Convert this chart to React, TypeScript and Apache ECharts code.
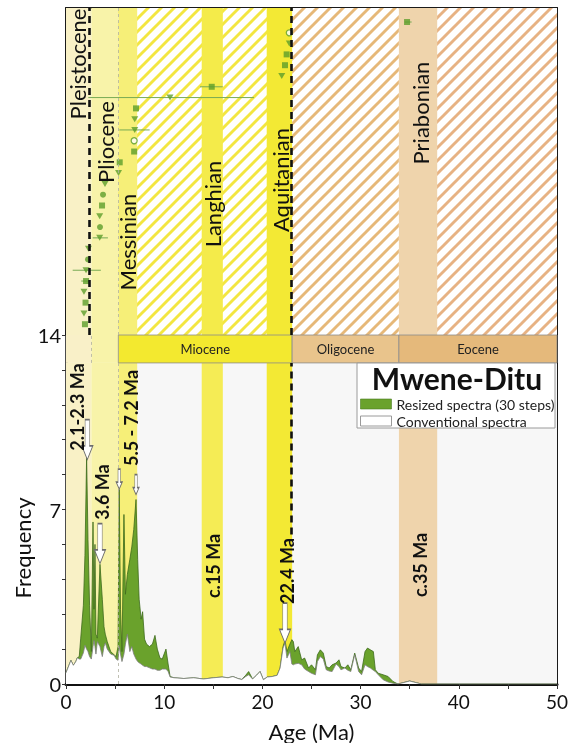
import React, { useEffect, useRef } from "react";
import * as echarts from "echarts";

const FONT = "Lato, 'Open Sans', sans-serif";

// ---------- Top panel: dated samples (row order bottom -> top) ----------
const pointRow = [1, 2, 3, 4, 5, 6, 7, 8, 9, 10, 11, 12, 13, 14, 15, 16, 17, 18, 19, 20, 21, 22, 23, 24, 25, 26, 27, 28, 29];
const pointAge = [1.93, 1.83, 1.99, 1.83, 2.04, 2.04, 2.24, 2.29, 3.43, 3.46, 3.43, 3.67, 3.77, 3.97, 5.35, 5.47, 6.94, 6.94, 7.0, 7.0, 7.13, 10.59, 14.84, 21.97, 22.3, 22.47, 22.74, 22.74, 34.73];
const pointMarker = ["square", "triangle", "square", "triangle", "square", "triangle", "circle", "triangle", "triangle", "circle", "triangle", "square", "circle", "triangle", "triangle", "square", "square", "open", "triangle", "triangle", "square", "triangle", "square", "triangle", "square", "square", "triangle", "open", "square"];
const pointErrLo = [null, null, null, null, 1.55, 0.68, null, null, 2.72, null, null, null, null, null, null, null, null, null, 5.43, null, null, 2.27, 13.65, null, null, null, null, null, 34.5];
const pointErrHi = [null, null, null, null, 2.4, 3.55, null, null, 4.27, null, null, null, null, null, null, null, null, null, 8.52, null, null, 19.14, 15.96, null, null, null, null, null, 35.2];

// ---------- Bottom panel: spectra ----------
const spectraAge = [0, 0.3, 0.5, 0.75, 1.0, 1.15, 1.35, 1.5, 1.77, 1.93, 2.1, 2.24, 2.4, 2.58, 2.75, 2.85, 2.95, 3.05, 3.19, 3.46, 3.7, 3.87, 4.0, 4.2, 4.55, 4.9, 5.1, 5.3, 5.42, 5.55, 5.7, 5.9, 6.05, 6.25, 6.5, 6.7, 6.9, 7.13, 7.3, 7.45, 7.65, 7.8, 8.0, 8.2, 8.5, 8.8, 9.06, 9.3, 9.57, 9.8, 10.18, 10.4, 10.6, 11.0, 12.0, 13.0, 14.0, 15.0, 15.9, 16.5, 17.0, 17.5, 17.9, 18.3, 18.6, 19.0, 19.4, 19.76, 20.1, 20.5, 21.0, 21.5, 21.8, 22.1, 22.3, 22.5, 22.8, 23.0, 23.15, 23.3, 23.65, 24.0, 24.3, 24.7, 25.0, 25.4, 25.6, 25.9, 26.2, 26.5, 26.8, 27.1, 27.5, 27.8, 28.0, 28.4, 28.7, 29.0, 29.4, 29.8, 30.1, 30.45, 30.7, 31.0, 31.3, 31.5, 31.8, 32.3, 32.8, 33.3, 33.8, 34.3, 35.0, 35.7, 36.2, 50];
const resizedFreq = [0.45, 0.75, 0.95, 0.75, 0.9, 1.05, 1.1, 1.84, 3.16, 5.16, 9.1, 5.8, 3.16, 1.3, 6.5, 3.0, 5.6, 2.0, 1.84, 4.8, 3.4, 2.3, 2.0, 1.7, 1.3, 1.17, 1.1, 1.5, 7.8, 3.0, 1.3, 6.8, 3.6, 4.4, 5.0, 5.5, 6.2, 7.4, 5.0, 3.4, 2.6, 2.9, 1.8, 1.6, 1.5, 1.6, 1.95, 1.4, 1.04, 1.0, 1.4, 0.8, 0.3, 0.25, 0.22, 0.25, 0.2, 0.25, 0.28, 0.25, 0.3, 0.22, 0.18, 0.35, 0.5, 0.2, 0.35, 0.5, 0.17, 0.28, 0.3, 0.35, 0.64, 1.5, 1.75, 1.3, 1.6, 1.78, 1.7, 1.3, 1.5, 0.97, 1.04, 0.64, 0.77, 0.57, 1.17, 1.37, 1.24, 0.7, 0.64, 0.77, 0.84, 0.97, 0.7, 0.64, 0.77, 0.57, 1.24, 0.64, 0.5, 1.3, 1.44, 1.37, 1.3, 0.57, 0.43, 0.37, 0.3, 0.1, 0.0, 0.05, 0.12, 0.05, 0.0, 0.0];
const conventionalFreq = [0.45, 0.75, 0.95, 0.75, 0.9, 1.05, 1.0, 1.0, 1.25, 1.55, 1.4, 1.3, 1.1, 1.0, 1.5, 1.75, 1.5, 1.2, 1.7, 1.5, 1.1, 1.5, 1.65, 1.4, 1.2, 1.15, 1.0, 0.95, 1.5, 1.2, 0.9, 1.2, 1.6, 2.0, 1.3, 1.5, 1.2, 1.0, 0.9, 0.85, 0.8, 0.75, 0.7, 0.7, 0.65, 0.6, 0.6, 0.55, 0.55, 0.6, 0.6, 0.5, 0.28, 0.25, 0.22, 0.25, 0.2, 0.25, 0.28, 0.25, 0.3, 0.22, 0.18, 0.3, 0.37, 0.2, 0.35, 0.5, 0.17, 0.28, 0.3, 0.35, 0.64, 1.44, 1.64, 1.04, 1.3, 0.8, 0.77, 0.8, 0.83, 0.77, 0.6, 0.5, 0.43, 0.37, 0.9, 1.1, 1.0, 0.57, 0.52, 0.5, 0.8, 0.7, 0.57, 0.64, 0.55, 0.5, 1.17, 0.5, 0.37, 0.77, 0.7, 0.64, 0.55, 0.5, 0.37, 0.17, 0.08, 0.03, 0.0, 0.05, 0.12, 0.05, 0.0, 0.0];

// ---------- Arrows (tip positions) ----------
const arrowAge = [2.17, 3.46, 5.42, 7.13, 22.3];
const arrowFreq = [9.0, 4.83, 7.82, 7.6, 1.64];

// ---------- Time scale ----------
const epochStart = [0, 2.58, 5.33, 23.03, 33.9];
const epochEnd = [2.58, 5.33, 23.03, 33.9, 50];
const epochName = ["", "", "Miocene", "Oligocene", "Eocene"];
const stageStart = [5.33, 13.82, 20.44, 33.9];
const stageEnd = [7.25, 15.97, 23.03, 37.8];
const stageName = ["Messinian", "Langhian", "Aquitanian", "Priabonian"];
const stripTop = 14;
const stripBottom = 12.88;

function stripePattern(color: string): any {
  const s = 13;
  const c = document.createElement("canvas");
  c.width = s;
  c.height = s;
  const g = c.getContext("2d");
  if (g) {
    g.fillStyle = "#ffffff";
    g.fillRect(0, 0, s, s);
    g.strokeStyle = color;
    g.lineWidth = 2.9;
    g.beginPath();
    g.moveTo(-3, 3);
    g.lineTo(3, -3);
    g.moveTo(0, s);
    g.lineTo(s, 0);
    g.moveTo(s - 3, s + 3);
    g.lineTo(s + 3, s - 3);
    g.stroke();
  }
  return { image: c, repeat: "repeat", imageWidth: s, imageHeight: s };
}

export default function App() {
  const ref = useRef<HTMLDivElement>(null);

  useEffect(() => {
    if (!ref.current) return;
    const chart = echarts.init(ref.current, null, { renderer: "svg" });

    const topEpochFill = ["#f9f1c6", "#f8f3a9", stripePattern("#f3e640"), stripePattern("#e6b878"), stripePattern("#e7b283")];
    const topStageFill = ["#f6ef78", "#f4eb4a", "#f3e934", "#efd4ac"];
    const botEpochFill = ["#f9f1c6", "#f8f3a9", "#f7f7f7", "#f7f7f7", "#f7f7f7"];
    const botStageFill = ["#f6ef78", "#f5ec55", "#f3e934", "#efd4ac"];
    const stripFill = ["#f9f0c8", "#f8f3a9", "#f3e92f", "#e9c48c", "#e5b97b"];

    const topBands: any[] = [];
    epochStart.forEach((a, i) => {
      topBands.push([{ xAxis: a, itemStyle: { color: topEpochFill[i] } }, { xAxis: epochEnd[i] }]);
    });
    stageStart.forEach((a, i) => {
      topBands.push([{ xAxis: a, itemStyle: { color: topStageFill[i] } }, { xAxis: stageEnd[i] }]);
    });

    const botBands: any[] = [];
    epochStart.forEach((a, i) => {
      botBands.push([{ coord: [a, 0], itemStyle: { color: botEpochFill[i] } }, { coord: [epochEnd[i], stripBottom] }]);
    });
    stageStart.forEach((a, i) => {
      botBands.push([{ coord: [a, 0], itemStyle: { color: botStageFill[i] } }, { coord: [stageEnd[i], stripBottom] }]);
    });
    epochStart.forEach((a, i) => {
      botBands.push([
        {
          name: epochName[i],
          coord: [a, stripBottom],
          itemStyle: { color: stripFill[i], borderColor: "#8c8c8c", borderWidth: i >= 2 ? 0.8 : 0 },
        },
        { coord: [epochEnd[i], stripTop] },
      ]);
    });

    const scatterOf = (kind: string) =>
      pointAge.map((a, i) => (pointMarker[i] === kind ? [a, pointRow[i]] : null)).filter((d) => d !== null);

    const errData = pointAge
      .map((_, i) => (pointErrLo[i] !== null ? [pointErrLo[i], pointErrHi[i], pointRow[i]] : null))
      .filter((d) => d !== null);

    const green = "#5c9d2b";
    const blackLine = { color: "#1a1a1a", width: 2 };

    const option: any = {
      animation: false,
      textStyle: { fontFamily: FONT },
      grid: [
        { left: 66, right: 16, top: 8, height: 327 },
        { left: 66, right: 16, top: 335, height: 351 },
      ],
      xAxis: [
        {
          gridIndex: 0, type: "value", min: 0, max: 50, position: "top",
          axisLine: { show: true, onZero: false, lineStyle: blackLine },
          axisTick: { show: false }, axisLabel: { show: false }, splitLine: { show: false },
        },
        {
          gridIndex: 1, type: "value", min: 0, max: 50, interval: 5, position: "bottom",
          axisLine: { show: true, onZero: false, lineStyle: { color: "#111", width: 3 } },
          axisTick: { show: true, length: 5, lineStyle: { color: "#333", width: 1 } },
          axisLabel: {
            fontFamily: FONT, fontSize: 19, color: "#111", margin: 8,
            formatter: (v: number) => (Math.round(v) % 10 === 0 ? String(Math.round(v)) : ""),
          },
          splitLine: { show: false },
          name: "Age (Ma)", nameLocation: "middle", nameGap: 36,
          nameTextStyle: { fontFamily: FONT, fontSize: 22, color: "#111" },
        },
      ],
      yAxis: [
        {
          gridIndex: 0, type: "value", min: 0, max: 30.3,
          axisLine: { show: true, onZero: false, lineStyle: blackLine },
          axisTick: { show: false }, axisLabel: { show: false }, splitLine: { show: false },
        },
        {
          gridIndex: 0, type: "value", min: 0, max: 30.3, position: "right",
          axisLine: { show: true, onZero: false, lineStyle: blackLine },
          axisTick: { show: false }, axisLabel: { show: false }, splitLine: { show: false },
        },
        {
          gridIndex: 1, type: "value", min: 0, max: 14, interval: 1.4,
          axisLine: { show: true, onZero: false, lineStyle: { color: "#111", width: 2.5 } },
          axisTick: { show: true, length: 4, lineStyle: { color: "#333", width: 1 } },
          axisLabel: {
            fontFamily: FONT, fontSize: 20, color: "#111", margin: 5,
            formatter: (v: number) => {
              const r = Math.round(v * 10) / 10;
              return r === 0 || r === 7 || r === 14 ? String(r) : "";
            },
          },
          splitLine: { show: false },
        },
        {
          gridIndex: 1, type: "value", min: 0, max: 14, position: "right",
          axisLine: { show: true, onZero: false, lineStyle: blackLine },
          axisTick: { show: false }, axisLabel: { show: false }, splitLine: { show: false },
        },
      ],
      title: {
        text: "Mwene-Ditu", left: 457, top: 363, textAlign: "center", padding: 0, z: 20,
        textStyle: { fontFamily: FONT, fontWeight: "bold", fontSize: 30, color: "#111" },
      },
      legend: {
        left: 360, top: 397, orient: "vertical", itemWidth: 31, itemHeight: 10, itemGap: 3, padding: 0,
        selectedMode: false, z: 20,
        textStyle: { fontFamily: FONT, fontSize: 14, color: "#222" },
        data: [
          { name: "Resized spectra (30 steps)", icon: "rect", itemStyle: { color: "#6aa22c", borderColor: "#4b7d24", borderWidth: 0.6 } },
          { name: "Conventional spectra", icon: "rect", itemStyle: { color: "#ffffff", borderColor: "#9a9a9a", borderWidth: 1 } },
        ],
      },
      graphic: [
        { type: "rect", z: 15, shape: { x: 357, y: 363, width: 198, height: 65 }, style: { fill: "#ffffff", stroke: "#9a9a9a", lineWidth: 1 } },
        ...[
          ["Pleistocene", 77, 64],
          ["Pliocene", 105, 142],
          ["Messinian", 127, 242],
          ["Langhian", 212, 204],
          ["Aquitanian", 280, 180],
          ["Priabonian", 420, 113],
        ].map(([t, x, y]) => ({
          type: "text", z: 12, x, y, rotation: Math.PI / 2,
          style: { text: t, fontFamily: FONT, fontSize: 22, fill: "#111", align: "center", verticalAlign: "middle" },
        })),
        ...[
          ["2.1-2.3 Ma", 77, 407],
          ["3.6 Ma", 102, 492],
          ["5.5 - 7.2 Ma", 131, 418],
          ["c.15 Ma", 213, 566],
          ["22.4 Ma", 287, 571],
          ["c.35 Ma", 420, 565],
        ].map(([t, x, y]) => ({
          type: "text", z: 12, x, y, rotation: Math.PI / 2,
          style: { text: t, fontFamily: FONT, fontSize: 18, fontWeight: "bold", fill: "#111", align: "center", verticalAlign: "middle" },
        })),
        {
          type: "text", z: 12, x: 22, y: 548, rotation: Math.PI / 2,
          style: { text: "Frequency", fontFamily: FONT, fontSize: 22, fill: "#111", align: "center", verticalAlign: "middle" },
        },
      ],
      series: [
        {
          type: "line", xAxisIndex: 0, yAxisIndex: 0, data: [], z: 1, silent: true,
          markArea: { silent: true, data: topBands },
        },
        {
          type: "line", xAxisIndex: 0, yAxisIndex: 0, data: [], z: 2, silent: true,
          markLine: {
            silent: true, symbol: ["none", "none"], label: { show: false },
            data: [
              { xAxis: 2.34, lineStyle: { color: "#111", width: 2.6, type: [7, 5] } },
              { xAxis: 22.92, lineStyle: { color: "#111", width: 2.6, type: [7, 5] } },
              { xAxis: 5.33, lineStyle: { color: "#b0b0a0", width: 0.8, type: [3, 3] } },
            ],
          },
        },
        {
          type: "custom", xAxisIndex: 0, yAxisIndex: 0, z: 3, silent: true,
          data: errData,
          encode: { x: [0, 1], y: 2 },
          renderItem: (_p: any, api: any) => {
            const lo = api.coord([api.value(0), api.value(2)]);
            const hi = api.coord([api.value(1), api.value(2)]);
            return {
              type: "line",
              shape: { x1: lo[0], y1: lo[1], x2: hi[0], y2: hi[1] },
              style: { stroke: "#78aa55", lineWidth: 1 },
            };
          },
        },
        {
          type: "scatter", xAxisIndex: 0, yAxisIndex: 0, z: 4, symbol: "rect", symbolSize: 6,
          itemStyle: { color: green }, data: scatterOf("square"),
        },
        {
          type: "scatter", xAxisIndex: 0, yAxisIndex: 0, z: 4, symbol: "triangle", symbolRotate: 180, symbolSize: [7, 6],
          itemStyle: { color: green }, data: scatterOf("triangle"),
        },
        {
          type: "scatter", xAxisIndex: 0, yAxisIndex: 0, z: 4, symbol: "circle", symbolSize: 6,
          itemStyle: { color: green }, data: scatterOf("circle"),
        },
        {
          type: "scatter", xAxisIndex: 0, yAxisIndex: 0, z: 4, symbol: "circle", symbolSize: 6,
          itemStyle: { color: "#ffffff", borderColor: green, borderWidth: 1.3 }, data: scatterOf("open"),
        },
        {
          type: "line", xAxisIndex: 1, yAxisIndex: 2, data: [], z: 1, silent: true,
          markArea: { silent: true, label: { show: true, position: "inside", fontFamily: FONT, fontSize: 13, color: "#222" }, data: botBands },
        },
        {
          type: "line", xAxisIndex: 1, yAxisIndex: 2, data: [], z: 2, silent: true,
          markLine: {
            silent: true, symbol: ["none", "none"], label: { show: false },
            data: [
              [{ coord: [5.33, 0], lineStyle: { color: "#b0b0a0", width: 0.8, type: [3, 3] } }, { coord: [5.33, stripBottom] }],
              [{ coord: [2.58, stripBottom], lineStyle: { color: "#b0b0a0", width: 0.8, type: [3, 3] } }, { coord: [2.58, stripTop] }],
              [{ coord: [22.92, 6.0], lineStyle: { color: "#111", width: 2.6, type: [7, 5] } }, { coord: [22.92, stripBottom] }],
            ],
          },
        },
        {
          name: "Resized spectra (30 steps)",
          type: "line", xAxisIndex: 1, yAxisIndex: 2, z: 3, silent: true,
          symbol: "none", smooth: false,
          color: "#6aa22c",
          lineStyle: { color: "#3e6b1d", width: 0.8 },
          areaStyle: { color: "#6aa22c", opacity: 1 },
          data: spectraAge.map((a, i) => [a, resizedFreq[i]]),
        },
        {
          name: "Conventional spectra",
          type: "line", xAxisIndex: 1, yAxisIndex: 2, z: 4, silent: true,
          symbol: "none", smooth: false,
          color: "#ffffff",
          lineStyle: { color: "#7d7d7d", width: 0.8 },
          areaStyle: { color: "#ffffff", opacity: 1 },
          data: spectraAge.map((a, i) => [a, conventionalFreq[i]]),
          markPoint: {
            silent: true,
            symbol: "path://M3,0 L7,0 L7,21 L10,21 L5,32 L0,21 L3,21 Z",
            symbolKeepAspect: false,
            label: { show: false },
            itemStyle: { color: "#ffffff", borderColor: "#6d6d6d", borderWidth: 1 },
            data: arrowAge.map((a, i) => {
              const len = i === 2 || i === 3 ? 20 : 40;
              const wid = i === 2 || i === 3 ? 6 : 11;
              return { coord: [a, arrowFreq[i]], symbolSize: [wid, len], symbolOffset: [0, -len / 2] };
            }),
          },
        },
      ],
    };

    chart.setOption(option);
    return () => chart.dispose();
  }, []);

  return <div ref={ref} style={{ position: "fixed", left: 0, top: 0, width: 573, height: 743 }} />;
}
